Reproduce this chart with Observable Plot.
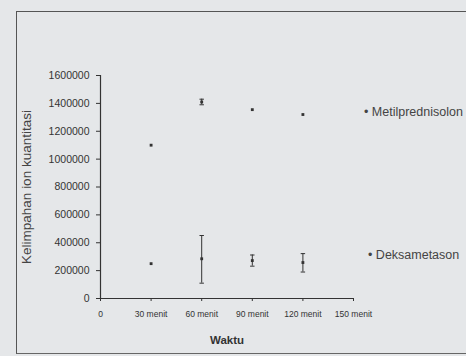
<!DOCTYPE html>
<html>
<head>
<meta charset="utf-8">
<script src="https://cdn.jsdelivr.net/npm/d3@7"></script>
<script src="https://cdn.jsdelivr.net/npm/@observablehq/plot@0.6"></script>
<style>
  html, body { margin: 0; padding: 0; background: #e5e7e9; }
  #wrap { position: relative; width: 466px; height: 356px; overflow: hidden; background: #e5e7e9; font-family: "Liberation Sans", Arial, sans-serif; }
  #frame { position: absolute; left: 16px; top: 11px; width: 470px; height: 341px; border-top: 1.5px solid #555; border-left: 1.5px solid #555; border-bottom: 1.5px solid #666; }
  .leg { position: absolute; font-size: 12.5px; color: #444; white-space: nowrap; line-height: 1; }
  svg { position: absolute; left: 0; top: 0; }
</style>
</head>
<body>
<div id="wrap"><div id="frame"></div></div>
<script>
const times = [30, 60, 90, 120];
const seriesNames = ["Metilprednisolon", "Deksametason"];
const metilValues = [1100000, 1410000, 1355000, 1320000];
const metilLow    = [1100000, 1390000, 1355000, 1320000];
const metilHigh   = [1100000, 1430000, 1355000, 1320000];
const deksaValues = [250000, 285000, 272000, 258000];
const deksaLow    = [250000, 110000, 232000, 190000];
const deksaHigh   = [250000, 452000, 312000, 322000];
const xTicks = [0, 30, 60, 90, 120, 150];
const xTickLabels = ["0", "30 menit", "60 menit", "90 menit", "120 menit", "150 menit"];
const yTicks = [0, 200000, 400000, 600000, 800000, 1000000, 1200000, 1400000, 1600000];

const rows = [];
times.forEach((t, i) => {
  rows.push({series: seriesNames[0], t, v: metilValues[i], lo: metilLow[i], hi: metilHigh[i]});
  rows.push({series: seriesNames[1], t, v: deksaValues[i], lo: deksaLow[i], hi: deksaHigh[i]});
});
const errRows = rows.filter(d => d.hi > d.lo);
const caps = errRows.flatMap(d => [{t: d.t, y: d.lo}, {t: d.t, y: d.hi}]);

const capSymbol = {
  draw(ctx, size) {
    const w = Math.sqrt(size) / 2;
    ctx.moveTo(-w, 0); ctx.lineTo(w, 0);
  }
};

const chart = Plot.plot({
  width: 466,
  height: 356,
  marginLeft: 100,
  marginRight: 113,
  marginTop: 75,
  marginBottom: 58,
  style: {background: "transparent", fontFamily: "Liberation Sans, Arial, sans-serif", color: "#333"},
  x: {domain: [0, 150]},
  y: {domain: [0, 1600000]},
  marks: [
    Plot.axisY({ticks: yTicks, tickFormat: d => String(d), tickSize: 4, tickPadding: 7, fontSize: 10.5,
      label: "Kelimpahan ion kuantitasi", labelAnchor: "center", labelArrow: "none", labelOffset: 79}),
    Plot.axisX({ticks: xTicks, tickFormat: d => xTickLabels[xTicks.indexOf(d)], tickSize: 3, tickPadding: 9, fontSize: 8.5,
      label: "Waktu", labelAnchor: "center", labelArrow: "none", labelOffset: 45}),
    Plot.ruleX([0], {stroke: "#333", strokeWidth: 1.2}),
    Plot.ruleY([0], {stroke: "#333", strokeWidth: 1.2}),
    Plot.ruleX(errRows, {x: "t", y1: "lo", y2: "hi", stroke: "#333", strokeWidth: 1}),
    Plot.dot(caps, {x: "t", y: "y", symbol: capSymbol, r: 2.5, stroke: "#333", strokeWidth: 1}),
    Plot.dot(rows, {x: "t", y: "v", symbol: "square", r: 1.6, fill: "#333", stroke: "none"})
  ]
});
chart.querySelectorAll("text").forEach(t => {
  if (t.textContent === "Waktu") { t.style.fontWeight = "bold"; t.style.fontSize = "11.5px"; }
  if (t.textContent === "Kelimpahan ion kuantitasi") { t.style.fontSize = "13.5px"; t.setAttribute("fill", "#444"); }
});
document.getElementById("wrap").appendChild(chart);

const legendPos = [{top: 106, left: 364}, {top: 249, left: 368}];
seriesNames.forEach((name, i) => {
  const d = document.createElement("div");
  d.className = "leg";
  d.style.top = legendPos[i].top + "px";
  d.style.left = legendPos[i].left + "px";
  d.textContent = "\u2022 " + name;
  document.getElementById("wrap").appendChild(d);
});
</script>
</body>
</html>
